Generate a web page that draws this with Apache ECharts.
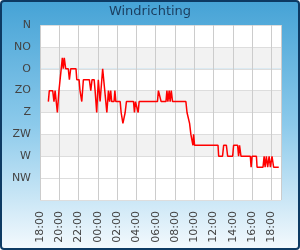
<!DOCTYPE html>
<html>
<head>
<meta charset="utf-8">
<script src="https://cdn.jsdelivr.net/npm/echarts@6/dist/echarts.min.js"></script>
<style>
html, body { margin: 0; padding: 0; }
#frame {
    position: absolute; left: 0; top: 0; width: 300px; height: 250px;
    box-sizing: border-box; border: 2px solid #0d3a63; border-radius: 4px;
    background: linear-gradient(to bottom, #46a3d6 0%, #8ccaeb 50%, #f3f9fd 100%);
}
#chart { position: absolute; left: 0; top: 0; width: 300px; height: 250px; }
</style>
</head>
<body>
<div id="frame"></div>
<div id="chart"></div>
<script>
// compass labels, every 45 degrees from the top
var directionNames = ['N', 'NO', 'O', 'ZO', 'Z', 'ZW', 'W', 'NW'];

// measurement times (from 18:00 until 18:00 the next day)
var times = [
    '18:52', '18:58', '19:19', '19:27', '19:34', '19:48', '19:58', '20:05', '20:19', '20:25',
    '20:31', '20:40', '20:56', '21:03', '21:11', '21:44', '21:49', '22:03', '22:09', '22:20',
    '22:30', '23:07', '23:16', '23:24', '23:37', '23:43', '23:53', '00:03', '00:14', '00:30',
    '00:56', '01:06', '01:13', '01:20', '01:26', '01:41', '01:46', '01:52', '02:19', '02:25',
    '02:36', '02:42', '02:50', '02:58', '03:42', '03:48', '03:54', '04:11', '04:17', '06:11',
    '06:17', '06:28', '06:34', '07:04', '07:10', '07:16', '07:24', '07:30', '07:37', '07:45',
    '09:08', '09:15', '09:25', '09:31', '09:39', '09:48', '09:52', '09:56', '10:02', '12:28',
    '12:32', '12:56', '13:03', '13:20', '13:28', '13:59', '14:05', '14:30', '14:36', '14:42',
    '14:51', '15:49', '15:54', '16:00', '16:27', '16:31', '17:08', '17:15', '17:21', '17:29',
    '17:37', '17:46', '17:54', '18:04', '18:14', '18:46'
];

// wind direction in degrees (0 = N, 90 = O, 180 = Z, 270 = W)
var degrees = [
    157.5, 135, 135, 157.5, 135, 180, 135, 135, 67.5, 90,
    67.5, 90, 90, 112.5, 90, 90, 112.5, 112.5, 135, 157.5,
    112.5, 112.5, 135, 112.5, 112.5, 135, 180, 112.5, 157.5, 90,
    180, 135, 157.5, 135, 157.5, 157.5, 135, 157.5, 157.5, 180,
    202.5, 202.5, 180, 157.5, 157.5, 180, 157.5, 180, 157.5, 157.5,
    135, 135, 157.5, 157.5, 135, 157.5, 135, 157.5, 135, 157.5,
    157.5, 180, 180, 202.5, 225, 225, 247.5, 225, 247.5, 247.5,
    270, 270, 247.5, 247.5, 270, 270, 247.5, 247.5, 270, 247.5,
    270, 270, 292.5, 270, 270, 292.5, 292.5, 270, 292.5, 270,
    292.5, 270, 292.5, 270, 292.5, 292.5
];

// minutes since the first 18:00, rolling over midnight
var points = [];
var prev = 0;
for (var i = 0; i < times.length; i++) {
    var p = times[i].split(':');
    var m = (+p[0]) * 60 + (+p[1]) - 18 * 60;
    while (m < prev) m += 1440;
    prev = m;
    points.push([m, degrees[i]]);
}

var font = 'DejaVu Sans';
var chart = echarts.init(document.getElementById('chart'));
chart.setOption({
    animation: false,
    title: {
        text: 'Windrichting',
        left: 'center',
        top: 0,
        padding: [5, 0, 0, 0],
        textStyle: { color: '#1b3d5e', fontSize: 13, fontWeight: 'normal', fontFamily: font }
    },
    grid: { left: 40, right: 19, top: 25, bottom: 50 },
    xAxis: {
        type: 'value',
        min: 0,
        max: 1500,
        interval: 120,
        axisLine: { show: false },
        axisTick: { show: false },
        axisLabel: {
            rotate: 90,
            margin: 11,
            color: '#444',
            fontSize: 11,
            fontFamily: font,
            showMaxLabel: false,
            formatter: function (v) {
                var h = (18 + Math.round(v / 60)) % 24;
                return (h < 10 ? '0' : '') + h + ':00';
            }
        },
        splitLine: { lineStyle: { color: '#cccccc' } }
    },
    yAxis: {
        type: 'value',
        inverse: true,
        min: 0,
        max: 360,
        interval: 45,
        axisLine: { show: false },
        axisTick: { show: false },
        axisLabel: {
            margin: 9,
            color: '#444',
            fontSize: 11,
            fontFamily: font,
            formatter: function (v) {
                return directionNames[Math.round(v / 45)] || '';
            }
        },
        splitLine: { lineStyle: { color: '#dddddd' } },
        splitArea: {
            show: true,
            areaStyle: {
                color: ['#ffffff', '#f2f2f2', '#ffffff', '#f2f2f2', '#ffffff', '#f2f2f2', '#ffffff', '#ffffff']
            }
        }
    },
    series: [{
        type: 'line',
        data: points,
        showSymbol: false,
        lineStyle: { color: '#ff0000', width: 1.5 },
        itemStyle: { color: '#ff0000' }
    }]
});
</script>
</body>
</html>
